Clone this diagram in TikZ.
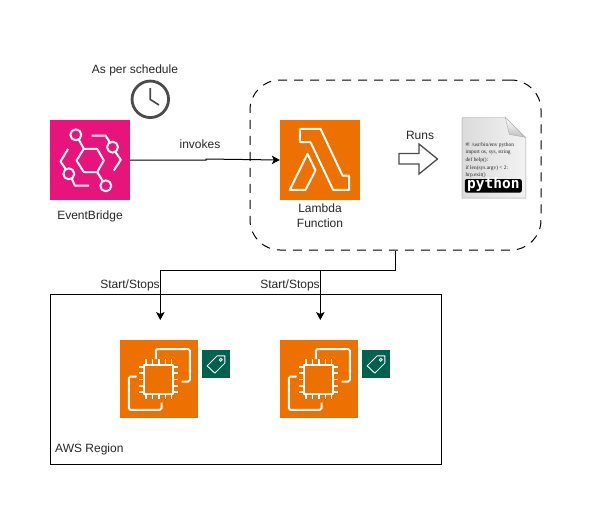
\documentclass[tikz,border=0pt]{standalone}
\usepackage{fontspec}
\setmainfont{Liberation Sans}
\newfontfamily\pyfont{DejaVu Sans Mono}
\newfontfamily\codefont{Liberation Serif}
\usetikzlibrary{arrows.meta}
\definecolor{awsorange}{HTML}{ED7100}
\definecolor{awspink}{HTML}{E7157B}
\definecolor{tagreen}{HTML}{01614F}
\tikzset{
  lbl/.style={font=\fontsize{12}{15}\selectfont,text=black!85,inner sep=0pt,align=center},
  iconbox/.style={minimum size=80pt,inner sep=0pt,draw=none},
  ic/.style={draw=white,line width=2pt,line join=round,fill=none},
  conn/.style={draw=black,line width=1pt,-{Stealth[length=8pt,width=8.5pt,inset=2pt]}},
}
\newcommand{\ectwoicon}[2]{%
  \node[iconbox,minimum size=78pt,fill=awsorange] (#2) at (#1) {};
  \begin{scope}[shift={(#2.north west)}]
    \draw[ic] (23.8,24.8) rectangle (53.3,54.3);
    \foreach \p in {26,32.5,39,45.5,51.5}{
      \draw[ic,line width=1.6pt] (\p,19.5) -- (\p,24.8);
      \draw[ic,line width=1.6pt] (\p,54.3) -- (\p,59.5);
    }
    \foreach \p in {27,33,39.5,46,52}{
      \draw[ic,line width=1.6pt] (18.8,\p) -- (23.8,\p);
      \draw[ic,line width=1.6pt] (53.3,\p) -- (58.5,\p);
    }
    \draw[ic,rounded corners=1.5pt] (36,19.3) -- (36,9.3) -- (70,9.3) -- (70,41.7) -- (61.7,41.7);
    \draw[ic,rounded corners=1.5pt] (16.7,36.7) -- (9,36.7) -- (9,70) -- (41.7,70) -- (41.7,62.7);
  \end{scope}}
\newcommand{\tagicon}[2]{%
  \node[minimum size=28pt,inner sep=0pt,fill=tagreen] (#2) at (#1) {};
  \begin{scope}[shift={(#2.north west)}]
    \draw[draw=white,line width=.9pt,line join=round] (22.7,6) -- (22.7,13.3) -- (12.7,23.3) -- (5,16) -- (15,6) -- cycle;
    \draw[draw=white,line width=.8pt] (18.7,10) circle (1.5);
  \end{scope}}
\begin{document}
\begin{tikzpicture}[x=1pt,y=-1pt]
\useasboundingbox (0,0) rectangle (591,515);

% dashed container
\node[draw=black,line width=1pt,dash pattern=on 9pt off 7pt,rounded corners=30pt,minimum width=291pt,minimum height=170pt,inner sep=0pt] (fn) at (395.5,165) {};

% region
\node[draw=black,line width=1pt,minimum width=391pt,minimum height=170pt,inner sep=0pt] (region) at (245.5,379) {};
\node[lbl,anchor=west] (regionlbl) at (55,449) {AWS Region};

% EventBridge
\node[iconbox,fill=awspink] (eb) at (90,160) {};
\begin{scope}[shift={(eb.north west)}]
  \draw[ic] (26.7,40.7) -- (34,29) -- (47.3,29) -- (54,40.7) -- (47.3,52.3) -- (34,52.3) -- cycle;
  \draw[ic] (26,15) circle (5.5);
  \draw[ic] (62.7,27.3) circle (5.5);
  \draw[ic] (19,54) circle (5.5);
  \draw[ic] (56,66) circle (5.5);
  \draw[ic] (29,19.7) -- (34,29);
  \draw[ic] (47.3,52.3) -- (53,61.3);
  \draw[ic] (41.7,15.7) -- (55.7,15.7) -- (60,22.5);
  \draw[ic] (65.5,32) -- (71,40) -- (64,50.7);
  \draw[ic] (18.3,29) -- (10.7,41.7) -- (16,49.3);
  \draw[ic] (22,58.7) -- (25,65.7) -- (39.3,65.7);
\end{scope}
\node[lbl] (eblbl) at (90,216) {EventBridge};

% Clock
\node[draw=black!70,line width=2.8pt,circle,minimum size=36.5pt,inner sep=0pt,fill=white] (clock) at (150.3,99.3) {};
\draw[black!70,line width=1.7pt,line join=round] (150.3,88) -- (150.3,99.5) -- (159,105);
\node[lbl] (schedlbl) at (135,70) {As per schedule};

% Lambda
\node[iconbox,fill=awsorange] (lam) at (320,160) {};
\begin{scope}[shift={(lam.north west)}]
  \draw[ic] (20,9) -- (40.7,9) -- (62.7,55.7) -- (69.3,55.7) -- (69.3,70) -- (53.3,70) -- (30.7,22.3) -- (20,22.3) -- cycle;
  \draw[ic] (27.7,34) -- (35.7,50.7) -- (25.7,70) -- (10,70) -- cycle;
\end{scope}
\node[lbl] (lamlbl) at (320,215.5) {Lambda\\Function};

% invokes
\draw[conn] (eb.east) -- (206,160) -- (206,159) -- (lam.west);
\node[lbl] (invlbl) at (200,144) {invokes};

% Runs block arrow
\node[lbl] (runslbl) at (420,135) {Runs};
\draw[draw=black!70,line width=1.3pt,line join=miter,fill=white] (399,153.5) -- (419,153.5) -- (419,144) -- (437.5,159) -- (419,174) -- (419,164) -- (399,164) -- cycle;

% Python file
\node[inner sep=0pt,minimum width=63pt,minimum height=81pt] (py) at (494,158) {};
\begin{scope}[shift={(py.north west)}]
  \fill[black!12] (-1,0.5) -- (43,0.5) -- (64,21) -- (64,81.5) -- (-1,81.5) -- cycle;
  \shade[left color=black!14,right color=black!5,draw=black!22,line width=.5pt] (0,0) -- (43,0) -- (63,20) -- (63,80.5) -- (0,80.5) -- cycle;
  \shade[top color=white,bottom color=black!25,draw=black!30,line width=.5pt] (43,0) -- (63,20) -- (47,17) -- cycle;
  \node[anchor=north west,inner sep=0pt,align=left,text=black!85,font=\codefont\fontsize{5.4}{7.6}\selectfont] (pycode) at (3,25) {\#! /usr/bin/env python\\import os, sys, string\\def help():\\if len(sys.argv) < 2:\\hrp.exit()};
  \fill[black,rounded corners=2pt] (2.5,61.8) rectangle (59.5,75.3);
  \node[inner sep=0pt,text=white,font=\pyfont\bfseries\fontsize{14.5}{15}\selectfont] (pyword) at (31,67.5) {python};
\end{scope}

% EC2 and tags
\ectwoicon{159,379}{ecA}
\ectwoicon{319,379}{ecB}
\tagicon{216.3,364}{tagA}
\tagicon{376.3,364}{tagB}

% Connectors to EC2
\draw[conn] (fn.south) -- (395.5,270.5) -- (160.3,270.5) -- (160.3,320);
\draw[conn] (fn.south) -- (395.5,270.5) -- (320.3,270.5) -- (320.3,320);
\node[lbl] (startA) at (130,285) {Start/Stops};
\node[lbl] (startB) at (290,285) {Start/Stops};
\end{tikzpicture}
\end{document}
